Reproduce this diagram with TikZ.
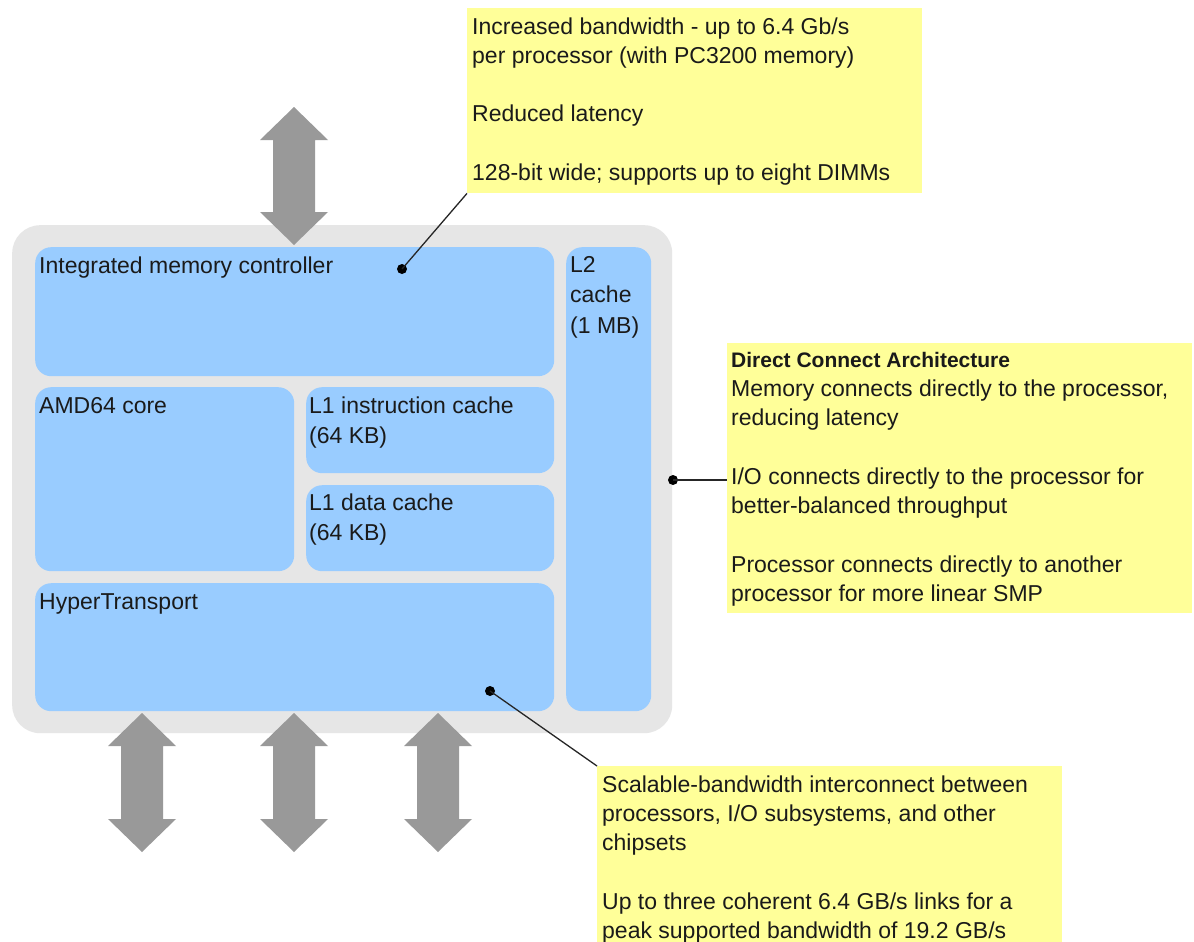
\documentclass[tikz,border=0pt]{standalone}
\usepackage{fontspec}
\setmainfont{Liberation Sans}
\definecolor{chipgray}{HTML}{E6E6E6}
\definecolor{blockblue}{HTML}{99CCFF}
\definecolor{arrowgray}{HTML}{999999}
\definecolor{noteyellow}{HTML}{FFFF99}
\definecolor{txt}{HTML}{1A1A1A}
\begin{document}
\begin{tikzpicture}[x=1pt,y=-1pt,
  chipbox/.style={fill=chipgray, rounded corners=28pt, inner sep=0pt, anchor=north west},
  blk/.style={fill=blockblue, rounded corners=16pt, inner sep=0pt, anchor=north west},
  notebox/.style={fill=noteyellow, inner sep=0pt, anchor=north west},
  lbl/.style={anchor=base west, inner sep=0pt, text=txt, align=left, font=\fontsize{23}{30}\selectfont},
  ntext/.style={anchor=base west, inner sep=0pt, text=txt, align=left, font=\fontsize{23}{29.3}\selectfont},
  dotmark/.style={circle, fill=black, inner sep=0pt, minimum size=10pt},
  lead/.style={draw=black!85, line width=1.3pt},
  bigarrow/.style={fill=arrowgray, draw=none}
]
\useasboundingbox (0,0) rectangle (1194,942);
\fill[white] (0,0) rectangle (1194,942);

% chip outline
\node[chipbox, minimum width=660pt, minimum height=508pt] (chip) at (12,225) {};

% blocks
\node[blk, minimum width=519pt, minimum height=129pt] (imc) at (35,247) {};
\node[blk, minimum width=85pt, minimum height=464pt] (l2) at (566,247) {};
\node[blk, minimum width=259pt, minimum height=184pt] (core) at (35,387) {};
\node[blk, minimum width=248pt, minimum height=86pt] (l1i) at (306,387) {};
\node[blk, minimum width=248pt, minimum height=86pt] (l1d) at (306,485) {};
\node[blk, minimum width=519pt, minimum height=128pt] (ht) at (35,583) {};

% block labels (base anchor = baseline of the last line)
\node[lbl] (imcl) at (39,273) {Integrated memory controller};
\node[lbl, font=\fontsize{23}{30.5}\selectfont] (l2l) at (570,333) {L2\\cache\\(1 MB)};
\node[lbl] (corel) at (39,413) {AMD64 core};
\node[lbl] (l1il) at (309,443) {L1 instruction cache\\(64 KB)};
\node[lbl] (l1dl) at (309,540) {L1 data cache\\(64 KB)};
\node[lbl] (htl) at (39,609) {HyperTransport};

% double arrows
\newcommand{\dblarrow}[3]{%
  \fill[bigarrow] (#1,#2) -- (#1+34,#2+33) -- (#1+21,#2+33) -- (#1+21,#3-33)
    -- (#1+34,#3-33) -- (#1,#3) -- (#1-34,#3-33) -- (#1-21,#3-33)
    -- (#1-21,#2+33) -- (#1-34,#2+33) -- cycle;}
\dblarrow{294}{107}{245}
\dblarrow{142}{713}{852}
\dblarrow{294}{713}{852}
\dblarrow{438}{713}{852}

% callout 1
\node[notebox, minimum width=455pt, minimum height=185pt] (n1) at (467,8) {};
\node[ntext] (n1t) at (472,180.5) {Increased bandwidth - up to 6.4 Gb/s\\per processor (with PC3200 memory)\\[29.3pt]Reduced latency\\[29.3pt]128-bit wide; supports up to eight DIMMs};

% callout 2
\node[notebox, minimum width=465pt, minimum height=270pt] (n2) at (727,343) {};
\node[ntext, font=\bfseries\fontsize{21}{29.3}\selectfont] (n2h) at (731,367) {Direct Connect Architecture};
\node[ntext] (n2t) at (731,601.4) {Memory connects directly to the processor,\\reducing latency\\[29.3pt]I/O connects directly to the processor for\\better-balanced throughput\\[29.3pt]Processor connects directly to another\\processor for more linear SMP};

% callout 3
\node[notebox, minimum width=465pt, minimum height=180pt] (n3) at (597,766) {};
\node[ntext] (n3t) at (602,938.5) {Scalable-bandwidth interconnect between\\processors, I/O subsystems, and other\\chipsets\\[29.3pt]Up to three coherent 6.4 GB/s links for a\\peak supported bandwidth of 19.2 GB/s};

% leader dots and lines
\node[dotmark] (d1) at (402,269) {};
\node[dotmark] (d2) at (673,480) {};
\node[dotmark] (d3) at (490,691) {};
\draw[lead] (d1.center) -- (n1.south west);
\draw[lead] (d2.center) -- (d2.center -| n2.west);
\draw[lead] (d3.center) -- (n3.north west);
\end{tikzpicture}
\end{document}
